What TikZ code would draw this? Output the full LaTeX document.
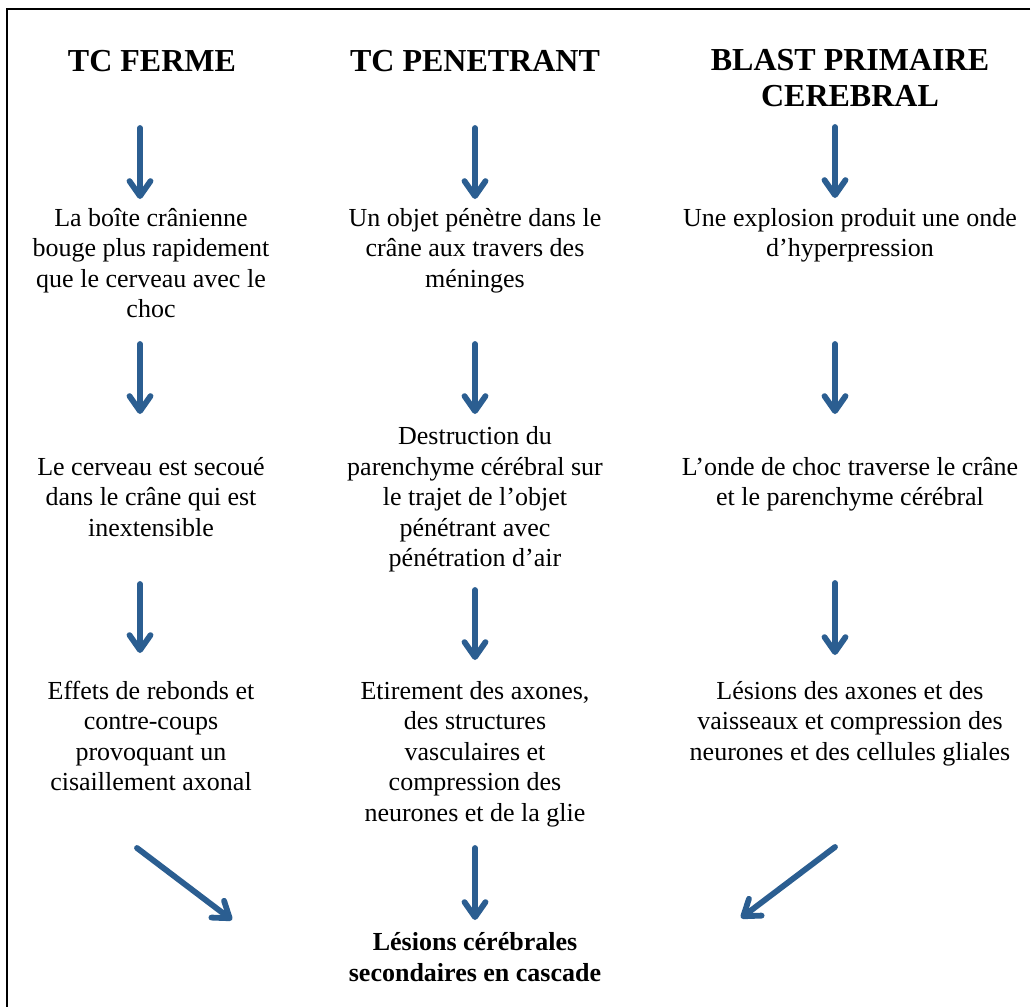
\documentclass[tikz,border=0pt]{standalone}
\usepackage{fontspec}
\setmainfont{Liberation Serif}
\usetikzlibrary{arrows.meta}
\definecolor{arrowblue}{RGB}{43,94,145}

\begin{document}
\begin{tikzpicture}[x=0.5pt, y=-0.5pt,
  title/.style={anchor=base, align=center, inner sep=0pt, font=\fontsize{16}{18}\selectfont\bfseries},
  txt/.style={anchor=base, align=center, inner sep=0pt, font=\fontsize{13}{15.25}\selectfont},
  flow/.style={draw=arrowblue, line width=2.9pt, line cap=round,
    -{Straight Barb[length=7.5pt, width=10.5pt, line cap=round, line join=round]}}]
  \useasboundingbox (0,0) rectangle (1035,1007);
  \draw[line width=1pt] (1030,9) -- (7,9) -- (7,1010);
  % titles (base = last line)
  \node[title] (T1) at (152,71) {TC FERME};
  \node[title] (T2) at (475,71) {TC PENETRANT};
  \node[title] (T3) at (850,106) {BLAST PRIMAIRE\\CEREBRAL};
  % first row
  \node[txt] (A1) at (151,317.5) {La boîte crânienne\\bouge plus rapidement\\que le cerveau avec le\\choc};
  \node[txt] (A2) at (475,287) {Un objet pénètre dans le\\crâne aux travers des\\méninges};
  \node[txt] (A3) at (850,256.5) {Une explosion produit une onde\\d’hyperpression};
  % second row
  \node[txt] (B1) at (151,536) {Le cerveau est secoué\\dans le crâne qui est\\inextensible};
  \node[txt] (B2) at (475,566.5) {Destruction du\\parenchyme cérébral sur\\le trajet de l’objet\\pénétrant avec\\pénétration d’air};
  \node[txt] (B3) at (850,505.5) {L’onde de choc traverse le crâne\\et le parenchyme cérébral};
  % third row
  \node[txt] (C1) at (151,790.5) {Effets de rebonds et\\contre-coups\\provoquant un\\cisaillement axonal};
  \node[txt] (C2) at (475,821) {Etirement des axones,\\des structures\\vasculaires et\\compression des\\neurones et de la glie};
  \node[txt] (C3) at (850,760) {Lésions des axones et des\\vaisseaux et compression des\\neurones et des cellules gliales};
  % result
  \node[txt, font=\fontsize{13}{15.25}\selectfont\bfseries] (F) at (475,981) {Lésions cérébrales\\secondaires en cascade};
  % arrow ends
  \coordinate (T1b) at (140,128);  \coordinate (A1t) at (140,199);
  \coordinate (T2b) at (475,128);  \coordinate (A2t) at (475,199);
  \coordinate (T3b) at (835,127);  \coordinate (A3t) at (835,198);
  \coordinate (A1b) at (140,344);  \coordinate (B1t) at (140,414);
  \coordinate (A2b) at (475,344);  \coordinate (B2t) at (475,414);
  \coordinate (A3b) at (835,344);  \coordinate (B3t) at (835,414);
  \coordinate (B1b) at (140,584);  \coordinate (C1t) at (140,653);
  \coordinate (B2b) at (475,590);  \coordinate (C2t) at (475,660);
  \coordinate (B3b) at (835,583);  \coordinate (C3t) at (835,655);
  \coordinate (C1b) at (137,848);  \coordinate (F1) at (232,920);
  \coordinate (C2b) at (475,848);  \coordinate (F2) at (475,920);
  \coordinate (C3b) at (835,847);  \coordinate (F3) at (741,918);
  % arrows
  \draw[flow] (T1b) -- (A1t);
  \draw[flow] (T2b) -- (A2t);
  \draw[flow] (T3b) -- (A3t);
  \draw[flow] (A1b) -- (B1t);
  \draw[flow] (A2b) -- (B2t);
  \draw[flow] (A3b) -- (B3t);
  \draw[flow] (B1b) -- (C1t);
  \draw[flow] (B2b) -- (C2t);
  \draw[flow] (B3b) -- (C3t);
  \draw[flow] (C1b) -- (F1);
  \draw[flow] (C2b) -- (F2);
  \draw[flow] (C3b) -- (F3);
\end{tikzpicture}
\end{document}
